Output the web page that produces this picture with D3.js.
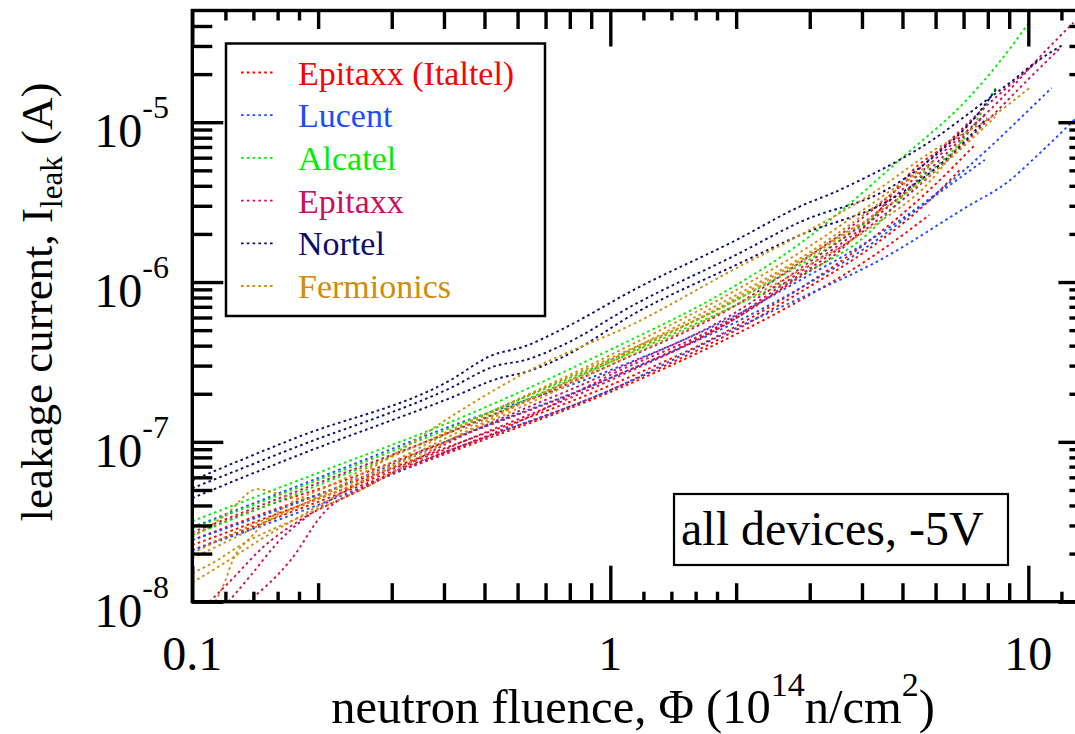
<!DOCTYPE html>
<html>
<head>
<meta charset="utf-8">
<script src="https://cdn.jsdelivr.net/npm/d3@7"></script>
<style>
  html, body { margin: 0; padding: 0; background: #fff; }
  svg { display: block; }
  svg text { font-family: "Liberation Serif", "Times New Roman", Times, serif; }
</style>
</head>
<body>
<svg id="chart" width="1075" height="734"></svg>
<script>
// ---- tick values and labels ----
const xMajorTicks = [0.1, 1, 10];
const xMajorLabels = ["0.1", "1", "10"];
const xMediumTicks = [0.2, 0.3, 0.4, 0.5, 0.6, 0.7, 0.8, 0.9, 2, 3, 4, 5, 6, 7, 8, 9];
const xShortTicks = [0.12, 0.14, 0.16, 0.18, 1.2, 1.4, 1.6, 1.8, 12];
const yMajorTicks = [1e-8, 1e-7, 1e-6, 1e-5];
const yMajorExponents = ["-8", "-7", "-6", "-5"];
const yMinorTicks = [2e-8, 3e-8, 4e-8, 5e-8, 6e-8, 7e-8, 8e-8, 9e-8,
                     2e-7, 3e-7, 4e-7, 5e-7, 6e-7, 7e-7, 8e-7, 9e-7,
                     2e-6, 3e-6, 4e-6, 5e-6, 6e-6, 7e-6, 8e-6, 9e-6,
                     2e-5, 3e-5, 4e-5];

// ---- manufacturers (legend order) ----
const manufacturers = ["Epitaxx (Italtel)", "Lucent", "Alcatel", "Epitaxx", "Nortel", "Fermionics"];
const manufacturerColors = ["#ff0000", "#1a4dff", "#00ee00", "#cc1060", "#0c0c6e", "#d08c0a"];

// ---- leakage current vs fluence, one array per device: [fluence (1e14 n/cm2), current (A)] ----
const italtelRuns = [
  [[0.1,2.61e-8],[0.145,3.85e-8],[0.214,5.36e-8],[0.414,1.03e-7],[1.0,2.51e-7],[2.0,5.95e-7],[2.85,1.08e-6],[3.41,1.45e-6],[4.18,2.4e-6],[5.46,5.4e-6],[6.13,6.71e-6],[7.66,1.14e-5]],
  [[0.1,2.43e-8],[0.145,3.5e-8],[0.214,4.99e-8],[0.414,9.4e-8],[1.0,2.26e-7],[2.0,5.3e-7],[2.85,9.17e-7],[4.18,1.83e-6],[5.8,3.77e-6],[7.45,7.21e-6]],
  [[0.1,2.26e-8],[0.214,4.71e-8],[0.414,8.88e-8],[1.0,2.11e-7],[2.0,5.01e-7],[2.85,8.66e-7],[4.18,1.63e-6],[5.64,3.03e-6],[6.86,5.03e-6]],
  [[0.1,2.1e-8],[0.214,4.51e-8],[0.414,8.62e-8],[1.0,2.05e-7],[2.0,4.72e-7],[2.85,7.71e-7],[4.18,1.41e-6],[5.8,2.63e-6]]
];
const lucentRuns = [
  [[0.1,2.1e-8],[0.214,4.32e-8],[0.414,8.88e-8],[1.0,2.11e-7],[2.0,5.15e-7],[2.85,7.94e-7],[4.41,1.37e-6],[7.12,2.95e-6],[8.93,4.23e-6],[10.66,6.42e-6],[13.0,1.06e-5]],
  [[0.1,2.92e-8],[0.214,6.37e-8],[0.414,1.25e-7],[1.0,2.81e-7],[2.0,6.21e-7],[2.85,1.03e-6],[4.18,1.83e-6],[5.96,3.51e-6],[7.96,6.71e-6],[9.57,1.06e-5],[11.37,1.64e-5]],
  [[0.1,2.43e-8],[0.214,4.99e-8],[0.414,1.03e-7],[1.0,2.51e-7],[2.0,5.62e-7],[2.85,9.17e-7],[4.18,1.71e-6],[5.8,3.26e-6],[7.87,5.81e-6]]
];
const alcatelRuns = [
  [[0.1,3.19e-8],[0.214,6.85e-8],[0.414,1.33e-7],[1.0,3.77e-7],[2.0,9.57e-7],[2.85,1.75e-6],[3.54,2.74e-6],[4.92,5.81e-6],[7.12,1.38e-5],[8.42,2.28e-5],[10.07,4.25e-5]],
  [[0.1,2.88e-8],[0.214,6.19e-8],[0.414,1.22e-7],[1.0,3.25e-7],[2.0,7.71e-7],[2.85,1.28e-6],[4.18,2.45e-6],[5.9,5.03e-6],[7.27,8.95e-6],[8.42,1.71e-5]],
  [[0.1,2.61e-8],[0.214,5.75e-8],[0.414,1.15e-7],[1.0,3.15e-7],[2.0,7.18e-7],[2.85,1.11e-6],[4.18,2.06e-6],[4.92,3.26e-6],[5.96,5.81e-6]]
];
const epitaxxRuns = [
  [[0.11,1.0e-8],[0.127,1.46e-8],[0.145,2.1e-8],[0.181,3.24e-8],[0.252,4.99e-8],[0.414,1.0e-7],[1.0,2.73e-7],[2.0,6.49e-7],[2.85,1.22e-6],[4.18,2.52e-6],[5.96,5.81e-6],[8.56,1.38e-5],[11.06,2.84e-5],[12.82,4.19e-5]],
  [[0.122,1.0e-8],[0.138,1.46e-8],[0.158,2.26e-8],[0.214,4.32e-8],[0.414,9.27e-8],[1.0,2.43e-7],[2.0,5.95e-7],[2.85,1.11e-6],[4.18,2.24e-6],[5.96,4.89e-6],[8.09,1.06e-5],[10.07,1.89e-5],[11.94,2.92e-5]],
  [[0.136,1.0e-8],[0.172,1.82e-8],[0.206,3.58e-8],[0.256,5.21e-8],[0.351,7.46e-8],[0.545,1.18e-7],[1.0,2.62e-7],[2.0,6.12e-7],[2.85,1.16e-6],[4.18,2.38e-6],[5.96,5.4e-6],[7.87,1.11e-5]],
  [[0.1,2.72e-8],[0.214,5.92e-8],[0.414,1.15e-7],[1.0,3.02e-7],[2.0,7.18e-7],[2.85,1.33e-6],[4.18,2.74e-6],[5.96,6.24e-6],[8.33,1.42e-5],[10.66,2.46e-5]]
];
const nortelRuns = [
  [[0.1,5.75e-8],[0.177,1.06e-7],[0.414,2.43e-7],[0.516,3.44e-7],[0.626,3.97e-7],[0.76,5.01e-7],[1.16,9.17e-7],[2.0,1.83e-6],[2.89,3.03e-6],[3.41,3.61e-6],[4.11,4.55e-6],[4.92,5.81e-6],[5.9,7.75e-6],[6.86,1.03e-5],[7.96,1.38e-5],[9.22,1.84e-5],[10.2,2.28e-5],[12.1,3.05e-5]],
  [[0.1,5.13e-8],[0.177,9.27e-8],[0.414,2.17e-7],[0.53,2.98e-7],[0.626,3.25e-7],[0.76,3.97e-7],[1.16,7.39e-7],[2.0,1.48e-6],[2.85,2.38e-6],[4.66,3.88e-6],[6.13,6.52e-6],[7.36,1.03e-5],[8.42,1.64e-5]],
  [[0.1,4.45e-8],[0.177,8.14e-8],[0.414,1.88e-7],[0.545,2.51e-7],[0.626,2.73e-7],[0.76,3.34e-7],[1.16,6.49e-7],[2.0,1.28e-6],[2.85,1.97e-6],[4.66,3.26e-6],[6.13,5.4e-6],[7.96,1.06e-5]]
];
const fermionicsRuns = [
  [[0.1,2.53e-8],[0.12,3.48e-8],[0.143,5.06e-8],[0.162,4.71e-8],[0.186,4.38e-8],[0.226,5.36e-8],[0.315,8.88e-8],[0.414,1.43e-7],[0.643,2.81e-7],[1.16,5.62e-7],[2.0,1.22e-6],[2.85,1.97e-6],[4.18,3.51e-6],[5.96,6.71e-6],[8.09,1.06e-5],[10.07,1.64e-5]],
  [[0.1,2.01e-8],[0.13,2.8e-8],[0.181,4.02e-8],[0.252,5.92e-8],[0.414,1.15e-7],[1.0,3.34e-7],[2.0,7.71e-7],[2.85,1.33e-6],[4.18,2.52e-6],[5.96,4.89e-6],[8.33,1.08e-5]],
  [[0.1,1.87e-8],[0.123,2.43e-8],[0.162,3.48e-8],[0.226,4.99e-8],[0.414,1.03e-7],[1.0,3.02e-7],[2.0,7.18e-7],[2.85,1.19e-6],[4.18,2.18e-6],[5.8,4.23e-6],[6.97,7.75e-6]],
  [[0.1,1.51e-8],[0.115,1.82e-8],[0.128,2.19e-8],[0.181,3.38e-8],[0.252,4.99e-8],[0.414,1.03e-7],[1.0,3.25e-7],[2.0,8.29e-7],[2.85,1.41e-6],[4.18,2.82e-6],[5.96,5.81e-6]],
  [[0.1135,1.0e-8],[0.12,1.36e-8],[0.125,1.82e-8],[0.138,2.53e-8],[0.162,3.73e-8],[0.214,5.36e-8],[0.414,1.18e-7],[1.0,3.49e-7],[2.0,8.91e-7],[2.85,1.54e-6],[4.18,3.03e-6],[5.5,5.03e-6]],
  [[0.1,1.32e-8],[0.117,1.69e-8],[0.145,2.43e-8],[0.202,4.02e-8],[0.414,1.09e-7],[1.0,3.15e-7],[2.0,7.94e-7],[2.85,1.37e-6],[3.95,2.31e-6]]
];
const runsByManufacturer = [italtelRuns, lucentRuns, alcatelRuns, epitaxxRuns, nortelRuns, fermionicsRuns];

// ---- layout ----
const svg = d3.select("#chart");
const plot = { left: 192.3, right: 1089.4, top: 10.5, bottom: 601.7 };
const x = d3.scaleLog().domain([0.1, 14]).range([plot.left, plot.right]);
const y = d3.scaleLog().domain([1e-8, 5e-5]).range([plot.bottom, plot.top]);

svg.append("defs").append("clipPath").attr("id", "plot-clip")
  .append("rect")
  .attr("x", plot.left).attr("y", plot.top)
  .attr("width", plot.right - plot.left).attr("height", plot.bottom - plot.top);

// ---- data curves ----
const line = d3.line()
  .x(d => x(d[0]))
  .y(d => y(d[1]))
  .curve(d3.curveMonotoneX);

const curves = svg.append("g").attr("clip-path", "url(#plot-clip)");
runsByManufacturer.forEach((runs, i) => {
  curves.append("g")
    .selectAll("path")
    .data(runs)
    .join("path")
    .attr("d", line)
    .attr("fill", "none")
    .attr("stroke", manufacturerColors[i])
    .attr("stroke-width", 1.9)
    .attr("stroke-dasharray", "2.6,3.2");
});

// ---- axes: frame + three tick classes ----
const axisWidth = 3.4;
function styleAxis(g) {
  g.select(".domain").remove();
  g.selectAll(".tick line").attr("stroke", "#000").attr("stroke-width", axisWidth);
  g.selectAll(".tick text").remove();
}
function tickSet(axisFn, scale, values, size, transform) {
  svg.append("g")
    .attr("transform", transform)
    .call(axisFn(scale).tickValues(values).tickSize(-size).tickFormat(() => ""))
    .call(styleAxis);
}
// bottom and top
[[d3.axisBottom, `translate(0,${plot.bottom})`], [d3.axisTop, `translate(0,${plot.top})`]].forEach(([fn, tr]) => {
  tickSet(fn, x, xMajorTicks, 36, tr);
  tickSet(fn, x, xMediumTicks, 18.5, tr);
  tickSet(fn, x, xShortTicks, 10, tr);
});
// left and right
[[d3.axisLeft, `translate(${plot.left},0)`], [d3.axisRight, `translate(${plot.right},0)`]].forEach(([fn, tr]) => {
  tickSet(fn, y, yMajorTicks, 31, tr);
  tickSet(fn, y, yMinorTicks, 20, tr);
});

svg.append("rect")
  .attr("x", plot.left).attr("y", plot.top)
  .attr("width", plot.right - plot.left).attr("height", plot.bottom - plot.top)
  .attr("fill", "none").attr("stroke", "#000").attr("stroke-width", axisWidth);

// ---- tick labels ----
svg.append("g").selectAll("text")
  .data(xMajorTicks)
  .join("text")
  .attr("x", d => x(d))
  .attr("y", 670)
  .attr("text-anchor", "middle")
  .attr("font-size", 48)
  .text((d, i) => xMajorLabels[i]);

const yLabels = svg.append("g").selectAll("text")
  .data(yMajorTicks)
  .join("text")
  .attr("x", 169)
  .attr("y", d => y(d) + 25)
  .attr("text-anchor", "end")
  .attr("font-size", 48);
yLabels.append("tspan").text("10");
yLabels.append("tspan").attr("font-size", 32).attr("dy", -29).text((d, i) => yMajorExponents[i]);

// ---- axis titles ----
const xTitle = svg.append("text")
  .attr("x", 633).attr("y", 723)
  .attr("text-anchor", "middle")
  .attr("font-size", 48.5);
xTitle.append("tspan").text("neutron fluence, \u03A6 (10");
xTitle.append("tspan").attr("font-size", 34).attr("dy", -27).text("14");
xTitle.append("tspan").attr("dy", 27).text("n/cm");
xTitle.append("tspan").attr("font-size", 34).attr("dy", -27).text("2");
xTitle.append("tspan").attr("dy", 27).text(")");

const yTitle = svg.append("text")
  .attr("transform", "translate(52,302) rotate(-90)")
  .attr("text-anchor", "middle")
  .attr("font-size", 45);
yTitle.append("tspan").text("leakage current, I");
yTitle.append("tspan").attr("font-size", 31).attr("dy", 10).text("leak");
yTitle.append("tspan").attr("dy", -10).text(" (A)");

// ---- legend ----
const legend = svg.append("g");
legend.append("rect")
  .attr("x", 226).attr("y", 43.5).attr("width", 319).attr("height", 272.5)
  .attr("fill", "#fff").attr("stroke", "#000").attr("stroke-width", 2.5);
const legendRows = legend.selectAll("g.row")
  .data(manufacturers)
  .join("g")
  .attr("class", "row")
  .attr("transform", (d, i) => `translate(0,${84.5 + i * 42.7})`);
legendRows.append("line")
  .attr("x1", 241).attr("x2", 275).attr("y1", -12).attr("y2", -12)
  .attr("stroke", (d, i) => manufacturerColors[i])
  .attr("stroke-width", 1.8)
  .attr("stroke-dasharray", "2.6,3.2");
legendRows.append("text")
  .attr("x", 298).attr("y", 0)
  .attr("font-size", 34)
  .attr("fill", (d, i) => manufacturerColors[i])
  .text(d => d);

// ---- condition label ----
svg.append("rect")
  .attr("x", 674).attr("y", 494).attr("width", 334).attr("height", 71)
  .attr("fill", "#fff").attr("stroke", "#000").attr("stroke-width", 2.2);
svg.append("text")
  .attr("x", 681).attr("y", 545)
  .attr("font-size", 48)
  .text("all devices, -5V");
</script>
</body>
</html>
